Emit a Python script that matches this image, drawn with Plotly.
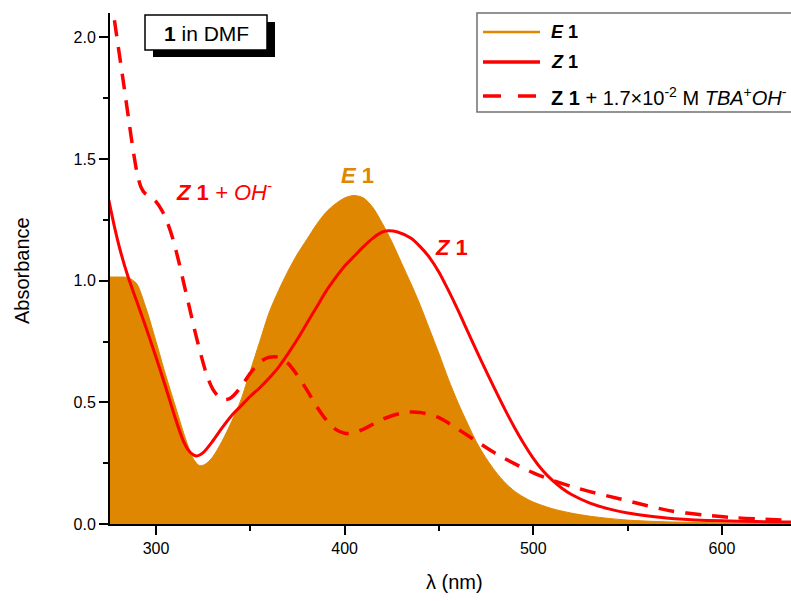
import plotly.graph_objects as go

# ---------------- data ----------------
lam_E1 = [275, 280, 285, 288, 290, 295, 300, 305, 310, 315, 318, 320, 323, 326, 330, 335,
          340, 345, 350, 355, 360, 365, 370, 375, 380, 385, 390, 395, 400, 405, 410, 415,
          420, 425, 430, 435, 440, 445, 450, 455, 460, 465, 470, 475, 480, 485, 490, 495,
          500, 510, 520, 530, 540, 550, 570, 600, 637]
abs_E1 = [1.015, 1.015, 1.013, 1.0, 0.985, 0.88, 0.75, 0.615, 0.49, 0.365, 0.30, 0.265, 0.24, 0.245, 0.275, 0.34,
          0.42, 0.51, 0.63, 0.75, 0.87, 0.96, 1.04, 1.11, 1.17, 1.23, 1.28, 1.315, 1.34, 1.35, 1.34, 1.30,
          1.235, 1.16, 1.075, 0.99, 0.90, 0.80, 0.70, 0.595, 0.50, 0.415, 0.335, 0.27, 0.215, 0.17, 0.135, 0.11,
          0.09, 0.063, 0.045, 0.032, 0.023, 0.016, 0.009, 0.005, 0.002]

lam_Z1 = [275, 278, 281, 285, 290, 295, 300, 305, 310, 314, 317, 320, 322, 325, 330, 335, 340,
          345, 350, 355, 360, 365, 370, 375, 380, 385, 390, 395, 400, 405, 410, 415, 420, 423,
          428, 435, 440, 445, 450, 455, 460, 465, 470, 475, 480, 485, 490, 495, 500, 505, 510,
          515, 520, 530, 540, 550, 560, 575, 600, 637]
abs_Z1 = [1.33, 1.22, 1.125, 1.02, 0.91, 0.80, 0.685, 0.565, 0.44, 0.35, 0.305, 0.283, 0.28, 0.293, 0.34, 0.395, 0.445,
          0.485, 0.525, 0.56, 0.60, 0.645, 0.70, 0.76, 0.825, 0.89, 0.955, 1.01, 1.06, 1.10, 1.14, 1.175, 1.20, 1.205,
          1.20, 1.175, 1.14, 1.095, 1.035, 0.96, 0.88, 0.795, 0.71, 0.628, 0.548, 0.47, 0.397, 0.33, 0.27, 0.22, 0.18,
          0.148, 0.122, 0.086, 0.062, 0.045, 0.034, 0.022, 0.013, 0.008]

lam_Z1OH = [276, 277.4, 280, 283, 286, 288, 290, 292, 294, 297, 300, 303, 306, 309, 312, 315, 318,
            321, 324, 327, 330, 333, 336, 339, 342, 346, 350, 355, 360, 365, 370, 375, 380, 385, 390,
            395, 400, 405, 410, 415, 420, 425, 430, 435, 440, 445, 450, 455, 460, 465, 470, 480, 490,
            500, 510, 520, 530, 545, 560, 572, 590, 607, 637]
abs_Z1OH = [2.18, 2.10, 1.96, 1.80, 1.635, 1.53, 1.44, 1.385, 1.36, 1.345, 1.325, 1.29, 1.24, 1.17, 1.08, 0.98, 0.88,
            0.78, 0.69, 0.61, 0.555, 0.525, 0.512, 0.515, 0.535, 0.575, 0.62, 0.665, 0.685, 0.685, 0.66, 0.61, 0.55, 0.485, 0.43,
            0.39, 0.373, 0.375, 0.39, 0.41, 0.43, 0.445, 0.455, 0.46, 0.458, 0.45, 0.437, 0.415, 0.39, 0.365, 0.34, 0.29, 0.248,
            0.21, 0.18, 0.155, 0.133, 0.105, 0.076, 0.055, 0.037, 0.026, 0.015]

x_ticks = [300, 400, 500, 600]
y_ticks = [0.0, 0.5, 1.0, 1.5, 2.0]

ORANGE = "#DF8700"
RED = "#FF0000"
FONT = "Arial, Liberation Sans, sans-serif"

W, H = 791, 601
ML, MR, MT, MB = 110, 0, 13, 77
PW, PH = W - ML - MR, H - MT - MB


def px(x):
    return (x - ML) / PW


def py(y):
    return (H - MB - y) / PH


fig = go.Figure()
fig.add_trace(go.Scatter(x=lam_E1, y=abs_E1, mode="lines", fill="tozeroy",
                         fillcolor=ORANGE, line=dict(color=ORANGE, width=1, shape="spline", smoothing=0.8),
                         showlegend=False))
fig.add_trace(go.Scatter(x=lam_Z1, y=abs_Z1, mode="lines",
                         line=dict(color=RED, width=3, shape="spline", smoothing=0.8),
                         showlegend=False))
fig.add_trace(go.Scatter(x=lam_Z1OH, y=abs_Z1OH, mode="lines",
                         line=dict(color=RED, width=3.5, dash="16px,11px", shape="spline", smoothing=0.8),
                         showlegend=False))

shapes = []
annotations = []

# "1 in DMF" box with shadow
shapes.append(dict(type="rect", xref="paper", yref="paper",
                   x0=px(153), x1=px(275), y0=py(57), y1=py(22),
                   fillcolor="black", line=dict(width=0), layer="above"))
shapes.append(dict(type="rect", xref="paper", yref="paper",
                   x0=px(145), x1=px(267), y0=py(50), y1=py(15),
                   fillcolor="white", line=dict(color="black", width=1.5), layer="above"))
annotations.append(dict(xref="paper", yref="paper", x=px(206), y=py(33), showarrow=False,
                        text="<b>1</b> in DMF", font=dict(size=21, color="black", family=FONT),
                        xanchor="center", yanchor="middle"))

# legend box (manual)
shapes.append(dict(type="rect", xref="paper", yref="paper",
                   x0=px(477), x1=px(820), y0=py(112), y1=py(13),
                   fillcolor="white", line=dict(color="#707070", width=1.5), layer="above"))
leg_rows = [
    (32, ORANGE, 2.5, "solid", "<b><i>E</i> 1</b>", 18),
    (62, RED, 3.5, "solid", "<b><i>Z</i> 1</b>", 18),
    (96, RED, 3.5, "18px,17px",
     "<b>Z 1</b> + 1.7×10<sup>-2</sup> M <i>TBA</i><sup>+</sup><i>OH</i><sup>-</sup>", 20),
]
for yy, col, lw, dash, txt, fs in leg_rows:
    shapes.append(dict(type="line", xref="paper", yref="paper",
                       x0=px(483), x1=px(540), y0=py(yy), y1=py(yy),
                       line=dict(color=col, width=lw, dash=dash), layer="above"))
    annotations.append(dict(xref="paper", yref="paper", x=px(549), y=py(yy), showarrow=False,
                            text=txt, font=dict(size=fs, color="black", family=FONT),
                            xanchor="left", yanchor="middle"))

# in-plot labels
annotations.append(dict(xref="paper", yref="paper", x=px(357), y=py(175), showarrow=False,
                        text="<b><i>E</i> 1</b>", font=dict(size=22, color=ORANGE, family=FONT),
                        xanchor="center", yanchor="middle"))
annotations.append(dict(xref="paper", yref="paper", x=px(174), y=py(191), showarrow=False,
                        text="<b><i>Z</i> 1</b> <i>+ OH</i><sup>-</sup>",
                        font=dict(size=22, color=RED, family=FONT),
                        xanchor="left", yanchor="middle"))
annotations.append(dict(xref="paper", yref="paper", x=px(451), y=py(247), showarrow=False,
                        text="<b><i>Z</i> 1</b>", font=dict(size=22, color=RED, family=FONT),
                        xanchor="center", yanchor="middle"))

# axis titles
annotations.append(dict(xref="paper", yref="paper", x=px(22), y=py(271), showarrow=False,
                        text="Absorbance", textangle=-90,
                        font=dict(size=20, color="black", family=FONT),
                        xanchor="center", yanchor="middle"))
annotations.append(dict(xref="paper", yref="paper", x=px(454), y=py(582), showarrow=False,
                        text="λ (nm)", font=dict(size=20, color="black", family=FONT),
                        xanchor="center", yanchor="middle"))

fig.update_layout(
    width=W, height=H,
    margin=dict(l=ML, r=MR, t=MT, b=MB, pad=0),
    paper_bgcolor="white", plot_bgcolor="white",
    font=dict(family=FONT, size=16, color="black"),
    showlegend=False,
    shapes=shapes, annotations=annotations,
    xaxis=dict(range=[275.6, 636.6], showline=True, linecolor="black", linewidth=2,
               ticks="outside", ticklen=9, tickwidth=2, tickcolor="black",
               tickvals=x_ticks, ticktext=[str(v) for v in x_ticks],
               minor=dict(dtick=50, tick0=0, ticks="outside", ticklen=5, tickwidth=2, tickcolor="black"),
               showgrid=False, zeroline=False, tickfont=dict(size=16), mirror=False),
    yaxis=dict(range=[0, 2.1], showline=True, linecolor="black", linewidth=2,
               ticks="outside", ticklen=9, tickwidth=2, tickcolor="black",
               tickvals=y_ticks, ticktext=[f"{v:.1f}" for v in y_ticks],
               minor=dict(dtick=0.25, tick0=0, ticks="outside", ticklen=5, tickwidth=2, tickcolor="black"),
               showgrid=False, zeroline=False, tickfont=dict(size=16), mirror=False),
)

fig.write_html("out.html")
